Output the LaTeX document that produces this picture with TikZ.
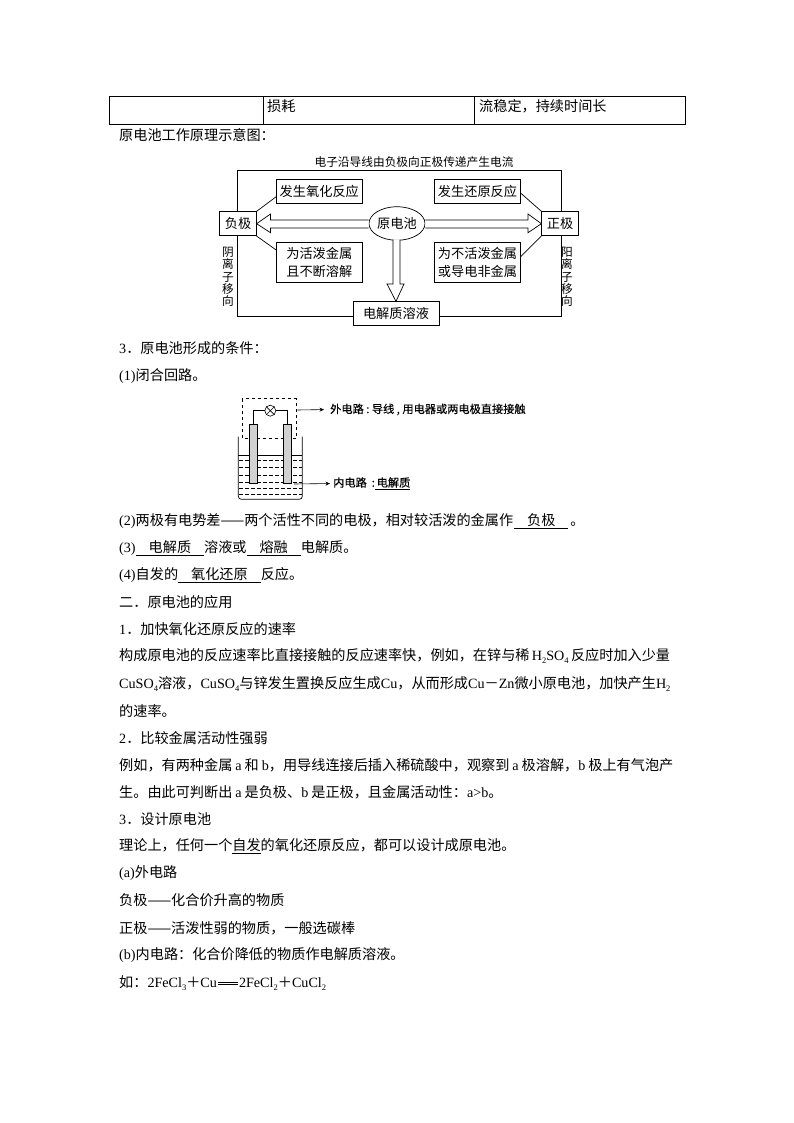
\documentclass[tikz,border=0pt]{standalone}
\usepackage{fontspec}
\setmainfont{Noto Sans CJK SC}
\newfontfamily\latf{Liberation Serif}
\newfontfamily\cellf[FakeBold=0.35]{Noto Sans CJK SC}
\usetikzlibrary{arrows.meta,shapes.geometric}
\newcommand{\ltn}[1]{{\latf #1}}
\newcommand{\lsb}[1]{\raisebox{-2.5pt}{\fontsize{8.5}{9}\selectfont\latf #1}}
\newcommand{\ul}[1]{\underline{\hspace{13pt}#1\hspace{13pt}}}
\newcommand{\dbl}{\hspace{1pt}\rlap{\raisebox{3pt}{\rule{20pt}{0.6pt}}}\raisebox{5.5pt}{\rule{20pt}{0.6pt}}\hspace{1pt}}
\tikzset{
  bodytext/.style={anchor=west,inner sep=0pt,font=\fontsize{14.15}{16}\selectfont},
  tiny lbl/.style={inner sep=0pt,font=\fontsize{11.7}{12.3}\selectfont,align=center},
  boxed/.style={draw,line width=0.7pt,fill=white,inner sep=0pt,font=\fontsize{13.2}{17.5}\selectfont,align=center},
  block/.style={draw,line width=0.7pt,fill=white,line join=miter},
  thin link/.style={line width=0.7pt},
  cell lbl/.style={anchor=west,inner sep=0pt,font=\cellf\fontsize{11.2}{13}\selectfont},
  lead/.style={line width=0.6pt,-{Stealth[length=4.5pt,width=4pt]}},
  electrode/.style={draw,line width=0.6pt,fill=black!18}
}
\begin{document}
\begin{tikzpicture}[x=1pt,y=-1pt]
\useasboundingbox[fill=white] (0,0) rectangle (794,1123);
% table
\draw[line width=0.8pt] (109.5,96.5) rectangle (685,124);
\draw[line width=0.8pt] (263,96.5) -- (263,124) (474,96.5) -- (474,124);
\node[bodytext] (t1) at (267,106) {损耗};
\node[bodytext] (t2) at (479,106) {流稳定，持续时间长};
\node[bodytext] (l0) at (119,135) {原电池工作原理示意图：};
% concept diagram
\coordinate (oa) at (237,170); \coordinate (ob) at (561,170);
\coordinate (oc) at (561,316); \coordinate (od) at (237,316);
\draw[thin link] (oa) -- (ob) -- (oc) -- (od) -- cycle;
\node[tiny lbl] (title) at (414,162) {电子沿导线由负极向正极传递产生电流};
\node[boxed,minimum width=36.5pt,minimum height=24pt] (neg) at (238,223.7) {负极};
\node[boxed,minimum width=36.5pt,minimum height=24pt] (pos) at (560,223.7) {正极};
\node[boxed,minimum width=85.5pt,minimum height=24pt] (ox) at (319.3,191) {发生氧化反应};
\node[boxed,minimum width=85.5pt,minimum height=24pt] (re) at (477.5,191) {发生还原反应};
\node[boxed,minimum width=85.5pt,minimum height=39.5pt] (act) at (319.3,262.5) {为活泼金属\\且不断溶解};
\node[boxed,minimum width=85.5pt,minimum height=39.5pt] (inact) at (477.5,262.5) {为不活泼金属\\或导电非金属};
\node[boxed,minimum width=86pt,minimum height=24pt] (elec) at (396,313.7) {电解质溶液};
\draw[thin link] (neg.north east) -- (ox.west |- 0,196.7);
\draw[thin link] (neg.south east) -- (act.west |- 0,250);
\draw[thin link] (pos.north west) -- (re.east |- 0,193);
\draw[thin link] (pos.south west) -- (inact.east |- 0,256.7);
\node[draw,ellipse,line width=0.7pt,fill=white,minimum width=54pt,minimum height=33.5pt,inner sep=0pt,font=\fontsize{13.2}{15}\selectfont] (cell) at (397,223.5) {原电池};
% block arrows
\draw[block] (cell.west |- 0,220) -- (270.5,220) -- (270.5,214) -- (neg.east) -- (270.5,232.7) -- (270.5,228) -- (cell.west |- 0,228);
\draw[block] (cell.east |- 0,220) -- (528,220) -- (528,214) -- (pos.west) -- (528,232.7) -- (528,228) -- (cell.east |- 0,228);
\draw[block] (393,239.6) -- (393,284) -- (387,284) -- (elec.north -| 396,0) -- (404,284) -- (400,284) -- (400,239.6);
\node[tiny lbl,text width=12pt] (yin) at (228,277) {阴\\离\\子\\移\\向};
\node[tiny lbl,text width=12pt] (yang) at (567,277) {阳\\离\\子\\移\\向};
\node[bodytext] (l1) at (119,348) {\ltn{3}．原电池形成的条件：};
\node[bodytext] (l2) at (119,376) {\ltn{(1)}闭合回路。};
% cell sketch
\draw[dashed,line width=0.6pt] (242,398.5) rectangle (296,438);
\begin{scope}
\clip (239,456) rectangle (302,499);
\foreach \yy in {460,467,475,482,488,494}
  \draw[line width=0.5pt,dash pattern=on 3.5pt off 2.5pt] (239,\yy) -- (302,\yy);
\end{scope}
\draw[line width=0.6pt] (238.3,455.7) -- (302.3,455.7);
\draw[line width=0.7pt,rounded corners=3pt] (238.3,436.7) -- (238.3,499.3) -- (302.3,499.3) -- (302.3,436.7);
\node[electrode,minimum width=8pt,minimum height=59pt,inner sep=0pt] (eL) at (253.3,453.8) {};
\node[electrode,minimum width=8pt,minimum height=59pt,inner sep=0pt] (eR) at (287.3,453.8) {};
\node[draw,circle,line width=0.6pt,minimum size=11pt,inner sep=0pt] (bulb) at (270.3,410.7) {};
\draw[line width=0.6pt] (bulb.north west) -- (bulb.south east) (bulb.north east) -- (bulb.south west);
\draw[line width=0.6pt] (eL.north) |- (bulb.west);
\draw[line width=0.6pt] (eR.north) |- (bulb.east);
\coordinate (outS) at (297.3,410);
\coordinate (inS) at (294,484);
\node[cell lbl] (outL) at (330,409.5) {外电路\hspace{2.5pt}:\hspace{2.5pt}导线\hspace{2.5pt},\hspace{2.5pt}用电器或两电极直接接触};
\node[cell lbl] (inL) at (333,483.5) {内电路\hspace{5pt}:\underline{\,电解质}};
\draw[lead,shorten >=6pt] (outS) -- (outL.west);
\draw[lead,shorten >=3pt] (inS) -- (inL.west);
% body
\node[bodytext] (l3) at (119,521) {\ltn{(2)}两极有电势差——两个活性不同的电极，相对较活泼的金属作\hspace{1pt}\ul{负极}\hspace{2pt}。};
\node[bodytext] (l4) at (119,548) {\ltn{(3)}\ul{电解质}溶液或\ul{熔融}电解质。};
\node[bodytext] (l5) at (119,575) {\ltn{(4)}自发的\ul{氧化还原}反应。};
\node[bodytext] (l6) at (119,602) {二．原电池的应用};
\node[bodytext] (l7) at (119,629) {\ltn{1}．加快氧化还原反应的速率};
\node[bodytext] (l8) at (119,656) {构成原电池的反应速率比直接接触的反应速率快，例如，在锌与稀\,\ltn{H\lsb{2}SO\lsb{4}}\,反应时加入少量};
\node[bodytext] (l9) at (119,684) {\ltn{CuSO\lsb{4}}溶液，\ltn{CuSO\lsb{4}}与锌发生置换反应生成\ltn{Cu}，从而形成\ltn{Cu}－\ltn{Zn}微小原电池，加快产生\ltn{H\lsb{2}}};
\node[bodytext] (l10) at (119,711) {的速率。};
\node[bodytext] (l11) at (119,738) {\ltn{2}．比较金属活动性强弱};
\node[bodytext] (l12) at (119,765) {例如，有两种金属\hspace{3pt}\ltn{a}\hspace{3pt}和\hspace{3pt}\ltn{b}，用导线连接后插入稀硫酸中，观察到\hspace{3pt}\ltn{a}\hspace{3pt}极溶解，\ltn{b}\hspace{3pt}极上有气泡产};
\node[bodytext] (l13) at (119,792) {生。由此可判断出\hspace{3pt}\ltn{a}\hspace{3pt}是负极、\ltn{b}\hspace{3pt}是正极，且金属活动性：\ltn{a>b}。};
\node[bodytext] (l14) at (119,819) {\ltn{3}．设计原电池};
\node[bodytext] (l15) at (119,846) {理论上，任何一个\underline{自发}的氧化还原反应，都可以设计成原电池。};
\node[bodytext] (l16) at (119,873) {\ltn{(a)}外电路};
\node[bodytext] (l17) at (119,900) {负极——化合价升高的物质};
\node[bodytext] (l18) at (119,928) {正极——活泼性弱的物质，一般选碳棒};
\node[bodytext] (l19) at (119,955) {\ltn{(b)}内电路：化合价降低的物质作电解质溶液。};
\node[bodytext] (l20) at (119,983) {如：\ltn{2FeCl\lsb{3}}＋\ltn{Cu}\dbl\ltn{2FeCl\lsb{2}}＋\ltn{CuCl\lsb{2}}};
\end{tikzpicture}
\end{document}
